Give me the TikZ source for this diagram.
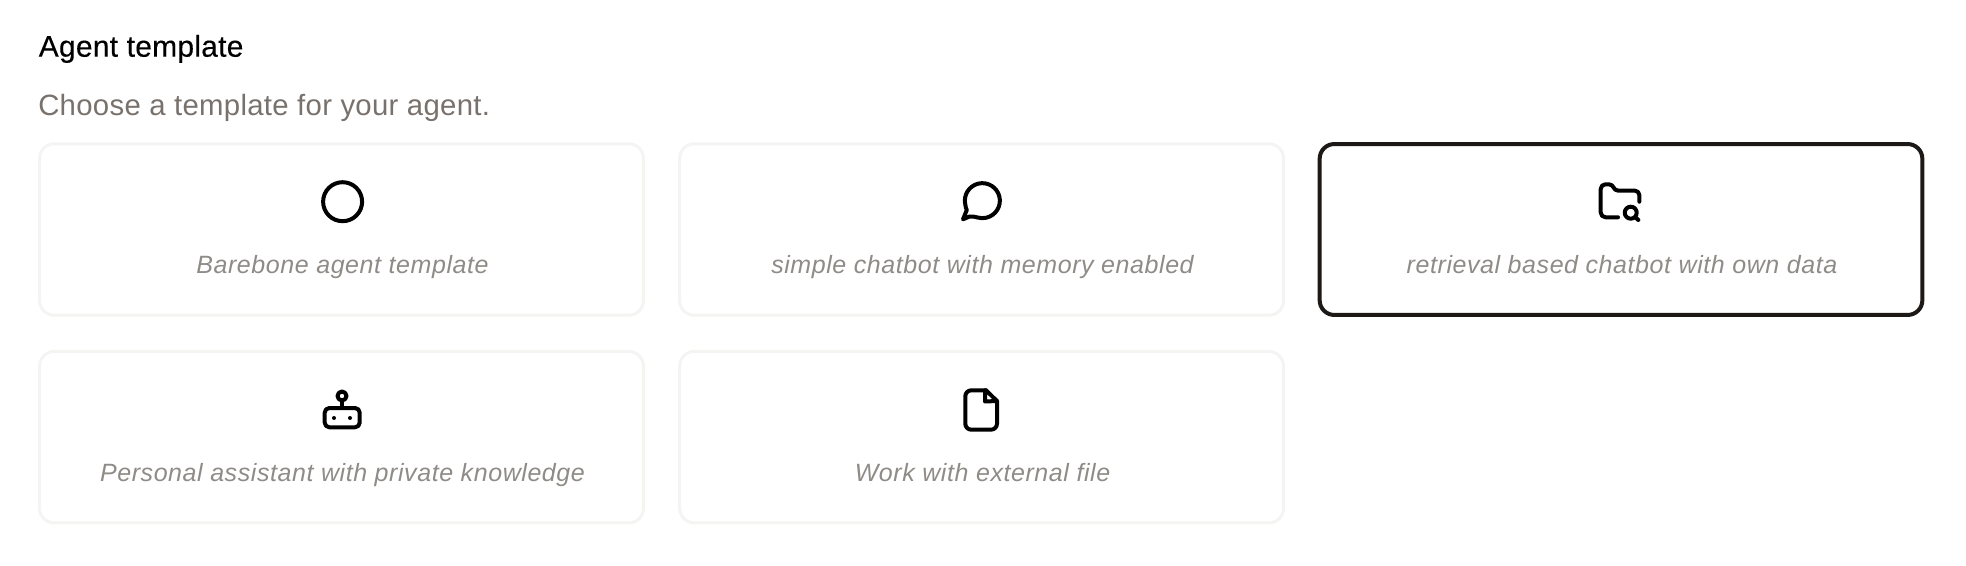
\documentclass[tikz,border=0pt]{standalone}
\usepackage{fontspec}
\setmainfont{Liberation Sans}
\newfontfamily\titlefont[LetterSpace=0.8,FakeBold=0.25]{Liberation Sans}
\newfontfamily\subfont[LetterSpace=1.05]{Liberation Sans}
\newfontfamily\capfont[LetterSpace=2.3]{Liberation Sans}
\definecolor{cardline}{HTML}{F4F4F3}
\definecolor{cardsel}{HTML}{1C1917}
\definecolor{subgray}{HTML}{78716C}
\definecolor{capgray}{HTML}{8F8B86}
\tikzset{
  card/.style = {draw = cardline, line width = 2.25pt, rounded corners = 11pt, minimum width = 452.9pt, minimum height = 128.6pt},
  cardon/.style = {card, draw = cardsel, line width = 3pt, minimum width = 452pt, minimum height = 128.2pt},
  title/.style = {anchor = base west, inner sep = 0pt, text = black, font = \titlefont\fontsize{22.5}{27}\selectfont},
  subtitle/.style = {anchor = base west, inner sep = 0pt, text = subgray, font = \subfont\fontsize{22}{26}\selectfont},
  caption/.style = {anchor = base, inner sep = 0pt, text = capgray, font = \capfont\itshape\fontsize{18.75}{22}\selectfont},
  icon/.style = {draw = black, line width = 3pt, line cap = round, line join = round}
}
\begin{document}
\begin{tikzpicture}[x = 0.75pt, y = -0.75pt]
        \useasboundingbox (0, 0) rectangle (1966, 566);
        %texts
        \node[title] (head) at (38.5, 56.7) {Agent template};
        \node[subtitle] (sub) at (38, 115.7) {Choose a template for your agent.};
        %cards
        \node[card] (barebone) at (341.5, 229.5) {};
        \node[card] (chatbot) at (981.6, 229.5) {};
        \node[cardon] (retrieval) at (1621, 229.5) {};
        \node[card] (assistant) at (341.5, 437.2) {};
        \node[card] (file) at (981.6, 437.2) {};
        %captions
        \node[caption] (baretext) at (342.5, 273.5) {Barebone agent template};
        \node[caption] (chattext) at (982.5, 273.5) {simple chatbot with memory enabled};
        \node[caption] (retrtext) at (1622, 273.5) {retrieval based chatbot with own data};
        \node[caption] (asstext) at (342.5, 481) {Personal assistant with private knowledge};
        \node[caption] (filetext) at (982.5, 481) {Work with external file};
        %icons
        \path [icon] (342.6, 201.7) circle (19.5);
        \path [icon] (965.3, 204.6) arc (167:465:17.5) .. controls (975, 217.5) and (972, 215.5) .. (969.5, 216.5) -- (963, 219.3) -- (966.8, 210) .. controls (966, 208.5) and (965.5, 206.5) .. cycle;
        \path [icon] (1618, 217.3) -- (1605.5, 217.3) arc (90:180:4.8) -- (1600.7, 189) arc (180:270:4.7) -- (1609, 184.3) .. controls (1614, 184.3) and (1613, 190.7) .. (1618.3, 190.7) -- (1635, 190.7) arc (-90:0:4.3) -- (1639.3, 201.7);
        \path [icon] (1630.7, 212.7) circle (6);
        \path [icon] (1635.2, 217.2) -- (1638.3, 220);
        \path [icon, rounded corners = 3.5pt] (324.7, 408) rectangle (359.7, 427.3);
        \path [icon] (342, 396) circle (4.5);
        \path [icon] (342, 400.5) -- (342, 408);
        \path [fill = black] (334, 418) circle (2) (350, 418) circle (2);
        \path [icon, rounded corners = 4.5pt] (986, 390.3) -- (965.3, 390.3) -- (965.3, 429.7) -- (997, 429.7) -- (997, 401);
        \path [icon] (986, 390.3) -- (997, 401) -- (985, 401.5) -- (985, 390.3);
\end{tikzpicture}
\end{document}
